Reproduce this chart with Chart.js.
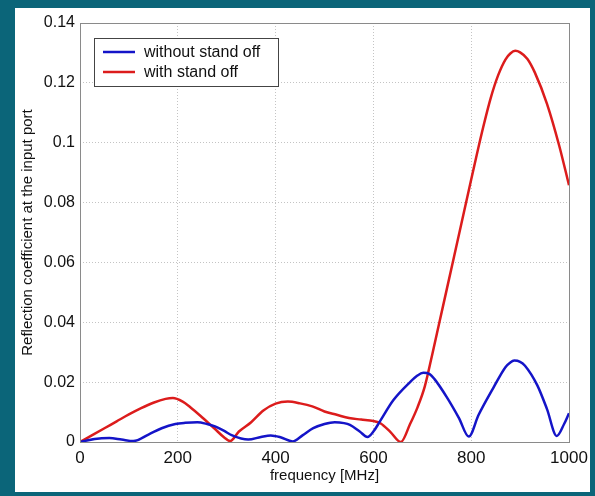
<!DOCTYPE html>
<html>
<head>
<meta charset="utf-8">
<script src="https://cdn.jsdelivr.net/npm/chart.js@4"></script>
<style>
  html, body { margin: 0; padding: 0; background: #0b6579; width: 595px; height: 496px; overflow: hidden; }
  #panel { position: absolute; left: 15px; top: 8px; width: 575px; height: 484px; background: #ffffff; }
  canvas { display: block; }
</style>
</head>
<body>
<div id="panel"><canvas id="chart" width="575" height="484"></canvas></div>
<script>
var seriesNames = ['without stand off', 'with stand off'];

// without stand off (blue)
var blueFreq = [0, 30, 60, 85, 109, 140, 167, 195, 215, 240, 260, 276, 295, 310, 344, 370, 390, 410, 435, 455, 477, 500, 521,
                540, 552, 572, 588, 600, 613, 641, 675, 690, 702, 715, 725, 750, 775, 795, 815, 845, 870, 880, 888, 900, 910, 935, 955, 975, 990, 1000];
var blueVals = [0, 0.0010, 0.0013, 0.0008, 0.0003, 0.0025, 0.0046, 0.0060, 0.0064, 0.0066, 0.0060, 0.0052, 0.0037, 0.0023, 0.0008, 0.0017, 0.0022, 0.0016, 0.0002, 0.0022, 0.0046, 0.0060, 0.0066,
                0.0063, 0.0057, 0.0035, 0.0017, 0.0035, 0.0068, 0.0140, 0.0200, 0.0222, 0.0231, 0.0227, 0.0210, 0.0150, 0.0080, 0.0018, 0.0090, 0.0180, 0.0250, 0.0266, 0.0272, 0.0268, 0.0255, 0.0190, 0.0110, 0.0020, 0.0060, 0.0096];

// with stand off (red)
var redFreq = [0, 25, 50, 75, 100, 125, 150, 175, 190, 210, 225, 250, 275, 295, 307, 325, 350, 375, 400, 425,
               450, 475, 500, 525, 550, 575, 600, 615, 635, 656, 675, 690, 705, 720, 735, 750, 765, 780, 795, 810,
               825, 840, 855, 870, 880, 890, 900, 915, 930, 955, 980, 1000];
var redVals = [0, 0.0023, 0.0046, 0.0069, 0.0092, 0.0113, 0.0131, 0.0144, 0.0147, 0.0135, 0.0117, 0.0082, 0.0045, 0.0015, 0.0003, 0.0035, 0.0066, 0.0105, 0.0128, 0.0135,
               0.0129, 0.0119, 0.0102, 0.0091, 0.0080, 0.0075, 0.0070, 0.0062, 0.0033, 0, 0.0060, 0.0115, 0.0185, 0.0290, 0.0400, 0.0510, 0.0620, 0.0730, 0.0840, 0.0950,
               0.1055, 0.1150, 0.1225, 0.1278, 0.1298, 0.1307, 0.1302, 0.1280, 0.1235, 0.1130, 0.0990, 0.0858];

var xTickLabels = ['0', '200', '400', '600', '800', '1000'];
var yTickLabels = ['0', '0.02', '0.04', '0.06', '0.08', '0.1', '0.12', '0.14'];

var fontName = '"Liberation Sans", Arial, Helvetica, sans-serif';

function toPoints(xs, ys) {
    var pts = [];
    for (var i = 0; i < xs.length; i++) {
        pts.push({x: xs[i], y: ys[i]});
    }
    return pts;
}

// matlab style box round the axes + boxed legend in the top left
var boxPlugin = {
    id: 'boxPlugin',
    afterDatasetsDraw: function(chart) {
        var ctx = chart.ctx;
        var a = chart.chartArea;
        ctx.save();
        ctx.strokeStyle = '#8a8a8a';
        ctx.lineWidth = 1;
        ctx.strokeRect(Math.round(a.left) + 0.5, Math.round(a.top) + 0.5, Math.round(a.right - a.left), Math.round(a.bottom - a.top));

        var lx = a.left + 14, ly = a.top + 15, lw = 184, lh = 48;
        ctx.fillStyle = '#ffffff';
        ctx.fillRect(lx, ly, lw, lh);
        ctx.strokeStyle = '#444444';
        ctx.strokeRect(lx + 0.5, ly + 0.5, lw, lh);
        ctx.font = '16px ' + fontName;
        ctx.textBaseline = 'middle';
        chart.data.datasets.forEach(function(ds, i) {
            var yy = ly + 14 + i * 20;
            ctx.strokeStyle = ds.borderColor;
            ctx.lineWidth = 2.5;
            ctx.beginPath();
            ctx.moveTo(lx + 9, yy);
            ctx.lineTo(lx + 41, yy);
            ctx.stroke();
            ctx.fillStyle = '#111111';
            ctx.fillText(ds.label, lx + 50, yy + 1);
        });
        ctx.restore();
    }
};

var config = {
    type: 'line',
    data: {
        datasets: [{
            label: seriesNames[0],
            data: toPoints(blueFreq, blueVals),
            borderColor: '#1414c8',
            borderWidth: 2.5,
            pointRadius: 0,
            cubicInterpolationMode: 'monotone',
            fill: false
        }, {
            label: seriesNames[1],
            data: toPoints(redFreq, redVals),
            borderColor: '#dc1c1c',
            borderWidth: 2.5,
            pointRadius: 0,
            cubicInterpolationMode: 'monotone',
            fill: false
        }]
    },
    options: {
        responsive: false,
        animation: false,
        devicePixelRatio: 1,
        layout: { padding: { left: 0, top: 15, right: 21, bottom: 0 } },
        plugins: {
            legend: { display: false },
            tooltip: { enabled: false }
        },
        scales: {
            x: {
                type: 'linear',
                min: 0,
                max: 1000,
                afterFit: function(scale) {
                    scale.height = 50;
                    scale.paddingLeft = 0;
                    scale.paddingRight = 0;
                },
                ticks: {
                    stepSize: 200,
                    padding: 6,
                    color: '#111111',
                    font: { family: fontName, size: 17 },
                    maxRotation: 0,
                    callback: function(value) {
                        var idx = Math.round(value / 200);
                        return xTickLabels[idx];
                    }
                },
                grid: { color: '#c4c4c4', drawTicks: false },
                border: { display: false, dash: [1, 2] },
                title: {
                    display: true,
                    text: 'frequency [MHz]',
                    color: '#111111',
                    font: { family: fontName, size: 15 },
                    padding: { top: 0, bottom: 7 }
                }
            },
            y: {
                min: 0,
                max: 0.14,
                afterFit: function(scale) { scale.width = 65; },
                ticks: {
                    stepSize: 0.02,
                    padding: 5,
                    color: '#111111',
                    font: { family: fontName, size: 16 },
                    callback: function(value) {
                        var idx = Math.round(value / 0.02);
                        return yTickLabels[idx];
                    }
                },
                grid: { color: '#c4c4c4', drawTicks: false },
                border: { display: false, dash: [1, 2] },
                title: {
                    display: true,
                    text: 'Reflection coefficient at the input port',
                    color: '#111111',
                    font: { family: fontName, size: 15 },
                    padding: { top: 4, bottom: 0 }
                }
            }
        }
    },
    plugins: [boxPlugin]
};

var chart = new Chart(document.getElementById('chart').getContext('2d'), config);
</script>
</body>
</html>
